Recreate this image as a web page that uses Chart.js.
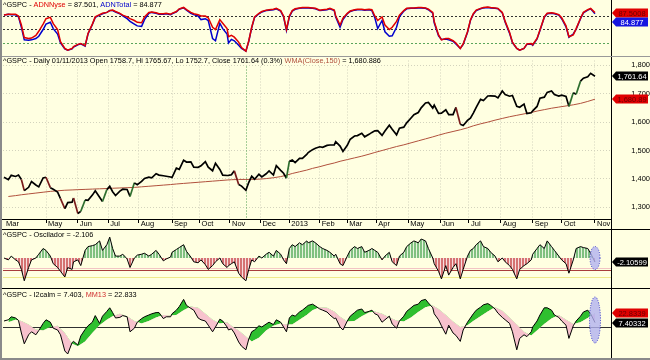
<!DOCTYPE html>
<html><head><meta charset="utf-8">
<script src="https://cdn.jsdelivr.net/npm/chart.js"></script>
<style>
html,body{margin:0;padding:0;background:#fff;}
#wrap{position:relative;width:650px;height:360px;background:#ffffe1;overflow:hidden;}
#wrap canvas{position:absolute;left:0;}
.sep{position:absolute;background:#000;}
</style></head><body>
<div id="wrap">
<canvas id="c1" width="650" height="56" style="top:0"></canvas>
<canvas id="c2" width="650" height="173" style="top:56px"></canvas>
<canvas id="c3" width="650" height="59" style="top:229px"></canvas>
<canvas id="c4" width="650" height="70" style="top:288px"></canvas>
<div class="sep" style="left:611px;top:0;width:1px;height:360px"></div>
<div class="sep" style="left:0;top:56px;width:650px;height:1px;background:#999"></div>
<div class="sep" style="left:0;top:219px;width:611px;height:1px"></div>
<div class="sep" style="left:0;top:229px;width:650px;height:1px"></div>
<div class="sep" style="left:0;top:288px;width:650px;height:1px"></div>
<div class="sep" style="left:0;top:0;width:2px;height:360px;background:#8a8a8a"></div>
<div class="sep" style="left:0;top:358px;width:650px;height:2px;background:#8a8a8a"></div>
</div>
<script>
// ---------- data (semi-weekly samples: Tue & Fri closes, 2012-03-20 .. 2013-11-01) ----------
const sampleStart = '2012-03-20';
const sampleEnd = '2013-11-01';
const holidays = ['2012-04-06','2012-05-28','2012-07-04','2012-09-03','2012-10-29','2012-10-30','2012-11-22','2012-12-25',
  '2013-01-01','2013-01-21','2013-02-18','2013-03-29','2013-05-27','2013-07-04','2013-09-02'];
const adnNyse = [
82,84,84,84,80,60,32,30,31,37, 46,62,74,77,63,50,23,8,4,8,
12,17,19,14,41,62,78,83,86,88, 92,93,90,86,82,78,74,70,66,65,
78,88,89,87,85,85,86,84,86,90, 96,99,94,88,85,83,80,80,76,55,
50,72,64,52,34,37,33,22,10,2, 25,55,78,86,90,93,94,95,97,92,
80,50,80,92,96,98,99,99,99,98, 97,93,94,95,97,93,80,60,75,86,
91,94,95,95,94,95,94,80,70,78, 60,50,55,68,82,92,97,98,98,99,
99,98,95,88,68,38,27,30,30,25, 20,8,18,45,71,85,93,97,99,100,
99,98,97,88,68,44,22,8,4,8, 18,19,16,30,49,78,86,87,86,83,
76,58,34,38,52,75,88,94,97,87.5];
const adnTotal = [
82,84,83,83,78,55,27,26,27,30, 35,50,62,66,52,40,20,7,4,7,
11,16,18,13,40,61,77,82,85,88, 92,92,89,85,80,74,68,62,58,57,
72,86,88,86,84,84,85,83,85,89, 95,98,93,86,83,80,72,74,70,30,
25,64,52,40,20,28,25,15,8,2, 24,54,77,85,89,92,93,94,96,91,
78,48,78,91,95,97,98,98,98,97, 96,92,93,94,96,92,78,55,72,85,
90,93,94,94,93,94,92,76,52,70, 45,35,36,55,78,91,96,97,97,98,
98,97,94,86,65,36,28,29,27,24, 18,8,17,44,70,84,92,96,98,99,
98,97,96,87,66,42,21,8,4,8, 17,18,15,29,48,77,85,86,85,82,
74,56,33,40,51,74,87,93,96,84.877];
const closes = [
1405.5,1397.1,1412.5,1408.5,1413.4,1398.1,1358.6,1370.3,1390.8,1378.5,
1371.9,1403.4,1405.8,1369.1,1363.7,1353.4,1330.7,1295.2,1316.6,1317.8,
1332.4,1278.0,1285.5,1325.7,1324.2,1342.8,1358.0,1335.0,1320.0,1362.2,
1374.0,1354.7,1341.5,1356.8,1363.7,1362.7,1338.3,1386.0,1379.3,1391.0,
1401.4,1405.9,1403.9,1418.2,1413.2,1411.1,1409.3,1406.6,1404.9,1437.9,
1433.6,1465.8,1459.3,1460.2,1441.6,1440.7,1445.8,1460.9,1441.5,1428.6,
1454.9,1433.2,1413.1,1411.9,1412.2,1414.2,1428.4,1379.9,1374.5,1359.9,
1387.9,1409.2,1398.9,1416.2,1407.1,1418.1,1427.8,1413.6,1446.8,1430.2,
1419.8,1402.4,1462.4,1466.5,1457.2,1472.1,1472.3,1486.0,1492.6,1503.0,
1507.8,1513.2,1511.3,1517.9,1519.4,1519.8,1530.9,1515.6,1496.9,1518.2,
1539.8,1551.2,1552.5,1560.7,1548.3,1556.9,1563.8,1569.2,1570.3,1553.3,
1568.6,1588.9,1574.6,1555.3,1578.8,1582.2,1597.6,1614.4,1626.0,1633.7,
1650.3,1667.5,1669.2,1649.6,1660.1,1630.7,1631.4,1643.4,1626.1,1626.7,
1651.8,1592.4,1588.0,1606.3,1614.1,1631.9,1652.3,1680.2,1676.3,1692.1,
1692.4,1691.7,1685.3,1709.7,1697.4,1691.4,1694.2,1655.8,1652.4,1663.5,
1630.5,1633.0,1639.8,1655.2,1684.0,1688.0,1704.8,1709.9,1697.4,1691.8,
1695.0,1690.5,1655.5,1703.2,1698.1,1744.5,1754.7,1759.8,1772.0,1761.64];
// weekly (Fridays)
const wmaWeekly = [
1338,1341,1344,1347,1350,1353,1356,1358,1360,1361,
1362,1363,1364,1365,1366,1367,1368,1369,1370,1372,
1374,1376,1378,1380,1382,1384,1386,1388,1390,1392,
1394,1396,1397,1398,1398,1398,1399,1401,1404,1408,
1413,1419,1425,1431,1437,1443,1450,1456,1462,1468,
1474,1480,1487,1493,1500,1507,1514,1520,1527,1534,
1541,1548,1554,1561,1567,1573,1580,1587,1594,1600,
1607,1613,1619,1624,1629,1634,1639,1644,1649,1653,
1657,1661,1666,1673,1680.886];
const osc = [
0,-1,1,-1,-2,-6,-12,-5,-1,0, 2,5,4,1,-3,-5,-7,-10,-5,-6,
-2,-1,-4,4,6,6.5,7,9,4,7, 11,5,1,1,2,-0.5,-5,0,1.5,2,
2.5,1,2,4,2,-1.5,-0.5,0.5,3,4.5, 5.5,7,3.5,0.5,-2,-2.5,-1,-3.5,-6,-4,
-2,0,-3,-5,-4,-3,-2,-8,-10,-12, -6,-1,-2,1,0,2,3,1,4,2,
-1,-3,5,7,6,8,7,9,8,9, 8,6,5,4,3,1,2,-3,-4,1,
4,6,5,6,3,4,5,4,3,-1, 1,3,-2,-4,1,3,6,8,9,8,
10,9,5,0,-3,-7,-11,-4,-9,-5, -3,-11,-6,1,4,5,7,9,6,5,
3,1,-2,0,-2,-4,-6,-11,-6,-4, -3,-1,2,5,7,5,9,6,4,1,
-1,-3,-8,-1,5,6,5.5,5,2.5,-2.106];
const i2calm = [
10,12,17,15,11,-10,-28,-13,-8,-13, -6,6,12,8,-2,-5,-13,-40,-45,-26,
-24,-30,-15,-4,2,8,19,6,18,26, 32,24,15,16,19,17,-8,-2,8,14,
17,20,22,24,24,14,17,17,22,28, 34,46,36,31,28,15,12,10,3,-8,
0,13,10,0,-5,-3,-10,-25,-32,-38, -20,-8,-5,2,0,5,8,4,12,8,
0,-8,15,20,18,25,28,34,36,38, 35,30,28,25,20,14,15,0,-5,10,
18,24,28,30,24,26,28,22,20,8, 12,18,5,-2,10,18,26,32,36,38,
44,46,40,32,22,12,2,-12,3,-10, -14,-24,-5,8,15,22,28,33,37,39,
36,30,23,16,12,6,-8,-38,-19,-13, -16,-8,0,10,20,32,32,28,20,16,
10,3,-19,2,10,18,25,28,22,7.403];
// weekly (Fridays)
const mm13Weekly = [
8,12,10,4,-4,-6,0,2,-10,-28, -32,-24,-10,3,12,18,22,18,10,6,
10,16,20,19,20,28,34,32,22,12, 6,8,2,-6,-16,-24,-18,-6,2,6,
4,4,12,20,28,33,32,26,17,9, 10,18,24,26,22,16,11,9,16,25,
33,36,30,20,9,0,3,10,18,26, 33,27,16,4,-8,-14,-6,5,14,20,
12,5,8,15,22.833];
const monthLabels = ['Mar','May','Jun','Jul','Aug','Sep','Oct','Nov','Dec','2013','Feb','Mar','Apr','May','Jun','Jul','Aug','Sep','Oct','Nov'];
const monthDates = ['2012-03-20','2012-05-01','2012-06-01','2012-07-02','2012-08-01','2012-09-04','2012-10-01','2012-11-01','2012-12-03','2013-01-02','2013-02-01','2013-03-01','2013-04-01','2013-05-01','2013-06-03','2013-07-01','2013-08-01','2013-09-03','2013-10-01','2013-11-01'];
const priceTicks = [1300,1400,1500,1600,1700,1800];
const adnLevels = [80,50,20];
const oscLevels = [-5,-6.5,-10];
const cursorDate = '2012-11-16';
const boxes1 = [{v:87.5008,t:'87.5008',bg:'#e00000',fg:'#6a0000'},{v:84.877,t:'84.877',bg:'#1515e0',fg:'#ffffff'}];
const boxes2 = [{v:1761.64,t:'1,761.64',bg:'#000000',fg:'#ffffff'},{v:1680.886,t:'1,680.89',bg:'#e00000',fg:'#6a0000'}];
const boxes3 = [{v:-2.10599,t:'-2.10599',bg:'#000000',fg:'#ffffff'}];
const boxes4 = [{v:22.8339,t:'22.8339',bg:'#e00000',fg:'#6a0000'},{v:7.40332,t:'7.40332',bg:'#000000',fg:'#ffffff'}];

// ---------- helpers ----------
const FONT = '"Liberation Sans", Arial, sans-serif';
const BG = '#ffffe1';
const FS = 7.5, TFS = 7.3;
Chart.defaults.font.family = FONT;
Chart.defaults.font.size = FS;
const DAY = 864e5;
const iso = t => new Date(t).toISOString().slice(0,10);
const hol = new Set(holidays);
const isTrading = t => { const d = new Date(t).getUTCDay(); return d !== 0 && d !== 6 && !hol.has(iso(t)); };
// trading-day index of every calendar day (the x axis counts trading days)
const tdIndex = {};
{ let t = Date.parse(sampleStart+'T00:00:00Z'), k = 0; const end = Date.parse(sampleEnd+'T00:00:00Z');
  while (t <= end) { tdIndex[iso(t)] = isTrading(t) ? k++ : k - 0.5; t += DAY; } }
// sample dates: Tue & Fri (a holiday Tue moves to Wed, a holiday Fri to Thu)
const xs = [];
{ let t = Date.parse(sampleStart+'T00:00:00Z');
  for (let i = 0; i < closes.length; i++) {
    let u = t; while (!isTrading(u)) u += (i % 2 === 0 ? DAY : -DAY);
    xs.push(tdIndex[iso(u)]); t += (i % 2 === 0 ? 3 : 4) * DAY; } }
const monthPos = monthDates.map(d => tdIndex[d]);
const X_MIN = -0.69, X_MAX = 419.05;
const pts = arr => arr.map((v,i)=>({x:xs[i],y:v}));
const weeklyPts = arr => arr.map((v,w)=>({x:xs[2*w+1],y:v}));

function stripe(c1,c2){
  const p=document.createElement('canvas'); p.width=3; p.height=4;
  const g=p.getContext('2d'); g.fillStyle=c1; g.fillRect(0,0,3,4); g.fillStyle=c2; g.fillRect(2,0,1,4);
  return g.createPattern(p,'repeat');
}

function overlay(o){ return {
  id:'overlay',
  beforeDatasetsDraw(chart){
    const {ctx, chartArea:a, scales:{x,y}} = chart; ctx.save();
    (o.levels||[]).forEach(l=>{ const py=Math.round(y.getPixelForValue(l.v))+0.5;
      ctx.strokeStyle=l.c; ctx.lineWidth=1; ctx.setLineDash(l.dash||[]);
      ctx.beginPath(); ctx.moveTo(a.left,py); ctx.lineTo(a.right,py); ctx.stroke(); });
    if (o.vline!=null){ const px=Math.round(x.getPixelForValue(o.vline))+0.5;
      ctx.strokeStyle='#4f9f4f'; ctx.lineWidth=1; ctx.setLineDash([1,2]);
      ctx.beginPath(); ctx.moveTo(px,a.top); ctx.lineTo(px,a.bottom); ctx.stroke(); }
    ctx.restore();
  },
  afterDatasetsDraw(chart){
    const {ctx, chartArea:a, scales:{x,y}} = chart; ctx.save();
    if (o.ellipse){ const e=o.ellipse; const cx=x.getPixelForValue(e.at), cy=y.getPixelForValue(e.v);
      ctx.beginPath(); ctx.ellipse(cx,cy,e.rx,e.ry,0,0,Math.PI*2);
      ctx.fillStyle='rgba(178,178,240,0.8)'; ctx.fill();
      ctx.setLineDash([1,1.5]); ctx.strokeStyle='#3535c8'; ctx.lineWidth=1; ctx.stroke(); ctx.setLineDash([]); }
    if (o.title){ ctx.font=TFS+'px '+FONT; ctx.textBaseline='top';
      const w=o.title.reduce((s,[t])=>s+ctx.measureText(t).width,0);
      ctx.fillStyle=BG; ctx.fillRect(2,o.titleY-1,w+3,9);
      let tx=3; o.title.forEach(([t,c])=>{ctx.fillStyle=c; ctx.fillText(t,tx,o.titleY); tx+=ctx.measureText(t).width;}); }
    ctx.restore();
  },
  afterDraw(chart){
    if(!o.boxes) return;
    const {ctx, chartArea:a, scales:{y}} = chart; const h=9; ctx.save();
    const items=o.boxes.map(b=>Object.assign({},b,{py:y.getPixelForValue(b.v)})).sort((p,q)=>p.py-q.py);
    for(let k=1;k<items.length;k++) if(items[k].py-items[k-1].py<h) items[k].py=items[k-1].py+h;
    items.forEach(b=>{ const x0=a.right+1, x1=648, yc=Math.round(b.py);
      ctx.fillStyle=b.bg; ctx.beginPath(); ctx.moveTo(x0,yc); ctx.lineTo(x0+4,yc-h/2); ctx.lineTo(x1,yc-h/2);
      ctx.lineTo(x1,yc+h/2); ctx.lineTo(x0+4,yc+h/2); ctx.closePath(); ctx.fill();
      ctx.fillStyle=b.fg; ctx.font=FS+'px '+FONT; ctx.textAlign='center'; ctx.textBaseline='middle';
      ctx.fillText(b.t,(x0+4+x1)/2,yc+0.5); });
    ctx.restore();
  }
};}

function opts(yMin,yMax,pad){ return {
  responsive:false, animation:false, events:[],
  layout:{padding:pad},
  plugins:{legend:{display:false}, tooltip:{enabled:false}},
  scales:{
    x:{type:'linear', min:X_MIN, max:X_MAX, display:false},
    y:{position:'right', min:yMin, max:yMax, afterFit(s){s.width=39;}, ticks:{display:false}, grid:{display:false}, border:{display:false}}
  },
  elements:{point:{radius:0}, line:{tension:0}}
};}

// ---------- Panel 1: ADN ----------
new Chart(document.getElementById('c1'), {
  type:'line',
  data:{datasets:[
    {data:pts(adnNyse), borderColor:'#e00000', borderWidth:1.5},
    {data:pts(adnTotal), borderColor:'#0000cc', borderWidth:1.5}
  ]},
  options:opts(-6.67,111.1,{top:2,bottom:1,left:3,right:0}),
  plugins:[overlay({
    levels:[{v:adnLevels[0],c:'#333',dash:[2,2]},{v:adnLevels[1],c:'#333',dash:[2,2]},{v:adnLevels[2],c:'#5aa55a',dash:[2,2]}],
    title:[['^GSPC - ','#000'],['ADNNyse','#e00000'],[' = 87.501, ','#000'],['ADNTotal','#0000cc'],[' = 84.877','#000']], titleY:1,
    boxes:boxes1
  })]
});

// ---------- Panel 2: price ----------
const o2 = opts(1258.6,1817.2,{top:1,bottom:0,left:3,right:0});
o2.scales.x = {type:'linear', min:X_MIN, max:X_MAX, display:true, position:'bottom',
  afterFit(s){s.height=10;},
  afterBuildTicks(s){ s.ticks = monthPos.map(v=>({value:v})); },
  ticks:{autoSkip:false, maxRotation:0, minRotation:0, align:'start', labelOffset:2, padding:-4, color:'#000', font:{size:FS}, callback:(v,i)=>monthLabels[i]},
  grid:{color:c=>c.index===0?'rgba(0,0,0,0)':'#d3d3bd', tickColor:c=>c.index===0?'rgba(0,0,0,0)':'#000', tickLength:4, lineWidth:1},
  border:{display:false, dash:[1,2]}};
o2.scales.y = {position:'right', min:1258.6, max:1817.2, afterFit(s){s.width=39;},
  afterBuildTicks(s){ s.ticks = priceTicks.map(v=>({value:v})); },
  ticks:{crossAlign:'far', padding:0, color:'#000', font:{size:FS}, callback:v=>v.toLocaleString('en-US')},
  grid:{color:'#d3d3bd', drawTicks:true, tickLength:16, tickColor:'rgba(0,0,0,0)'}, border:{display:false, dash:[1,2]}};
new Chart(document.getElementById('c2'), {
  type:'line',
  data:{datasets:[
    {data:pts(closes), borderColor:'#000', borderWidth:1.7,
     segment:{borderColor:c=>{const r=(c.p1.parsed.y-c.p0.parsed.y)/c.p0.parsed.y; return r>0.025?'#2f6f2f':(r<-0.025?'#7a1c1c':'#000');}}},
    {data:weeklyPts(wmaWeekly), borderColor:'#b0503c', borderWidth:1}
  ]},
  options:o2,
  plugins:[overlay({
    vline:tdIndex[cursorDate],
    title:[['^GSPC - Daily 01/11/2013 Open 1758.7, Hi 1765.67, Lo 1752.7, Close 1761.64 (0.3%) ','#000'],['WMA(Close,150)','#b0503c'],[' = 1,680.886','#000']], titleY:1,
    boxes:boxes2
  })]
});

// ---------- Panel 3: Oscilador ----------
new Chart(document.getElementById('c3'), {
  type:'line',
  data:{datasets:[
    {data:pts(osc), borderColor:'#000', borderWidth:1,
     fill:{target:'origin', above:stripe('#80c080','#e6f3dc'), below:stripe('#d57272','#f6dede')}}
  ]},
  options:opts(-15.26,14.74,{top:1,bottom:1,left:3,right:0}),
  plugins:[overlay({
    levels:[{v:oscLevels[0],c:'#f2c4c4'},{v:oscLevels[1],c:'#a83c3c'},{v:oscLevels[2],c:'#f0ea8a'}],
    ellipse:{at:xs[xs.length-1], v:0, rx:5, ry:11.5},
    title:[['^GSPC - Oscilador = -2.106','#000']], titleY:2,
    boxes:boxes3
  })]
});

// ---------- Panel 4: I2calm ----------
new Chart(document.getElementById('c4'), {
  type:'line',
  data:{datasets:[
    {data:pts(i2calm), borderColor:'#000', borderWidth:1, fill:{target:1, above:'#2fbf2f', below:'#f7c2cd'}},
    {data:weeklyPts(mm13Weekly), borderColor:'rgba(0,0,0,0)', borderWidth:0}
  ]},
  options:opts(-50,63.3,{top:1,bottom:1,left:3,right:0}),
  plugins:[overlay({
    levels:[{v:0,c:'#303030'}],
    ellipse:{at:xs[xs.length-1], v:11.7, rx:5.5, ry:23},
    title:[['^GSPC - I2calm = 7.403, ','#000'],['MM13','#d03030'],[' = 22.833','#000']], titleY:3,
    boxes:boxes4
  })]
});
</script>
</body></html>
